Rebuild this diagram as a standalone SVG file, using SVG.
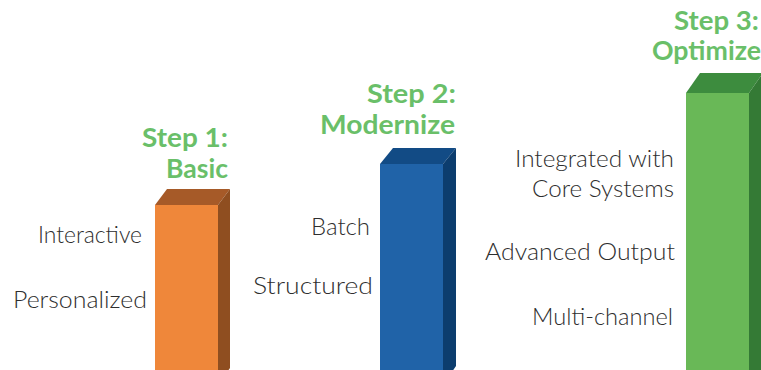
<svg xmlns="http://www.w3.org/2000/svg" width="761" height="370" viewBox="0 0 761 370">
<style>
.lbl{font-family:Lato,"Open Sans","Liberation Sans",sans-serif;font-weight:300;font-size:24px;fill:#2e2e2e;text-anchor:end}
.ttl{font-family:Lato,"Open Sans","Liberation Sans",sans-serif;font-weight:700;font-size:27px;fill:#6abf69;text-anchor:end}
</style>
<rect width="761" height="370" fill="#ffffff"/>
<g id="bar1">
<rect x="155" y="205" width="63" height="180" fill="#ef873a"/>
<polygon points="155,205 218,205 230,189 167,189" fill="#a65a28"/>
<polygon points="218,205 230,189 230,368 218,385" fill="#8f4e20"/>
</g>
<g id="bar2">
<rect x="380" y="164" width="63" height="221" fill="#2063a8"/>
<polygon points="380,164 443,164 456,148 393,148" fill="#124b85"/>
<polygon points="443,164 456,148 456,366 443,385" fill="#0c3d6e"/>
</g>
<g id="bar3">
<rect x="686" y="93" width="63" height="292" fill="#69b857"/>
<polygon points="686,93 749,93 763,73 700,73" fill="#3d8c3e"/>
<polygon points="749,93 763,73 763,370 749,385" fill="#347a35"/>
</g>
<g id="step1">
<text class="ttl" x="228" y="147" textLength="86" lengthAdjust="spacingAndGlyphs">Step 1:</text>
<text class="ttl" x="228" y="178" textLength="62" lengthAdjust="spacingAndGlyphs">Basic</text>
<text class="lbl" x="142" y="243" textLength="104" lengthAdjust="spacingAndGlyphs">Interactive</text>
<text class="lbl" x="147" y="308" textLength="134" lengthAdjust="spacingAndGlyphs">Personalized</text>
</g>
<g id="step2">
<text class="ttl" x="456" y="103" textLength="89" lengthAdjust="spacingAndGlyphs">Step 2:</text>
<text class="ttl" x="455" y="134" textLength="135" lengthAdjust="spacingAndGlyphs">Modernize</text>
<text class="lbl" x="370" y="235" textLength="59" lengthAdjust="spacingAndGlyphs">Batch</text>
<text class="lbl" x="373" y="294" textLength="120" lengthAdjust="spacingAndGlyphs">Structured</text>
</g>
<g id="step3">
<text class="ttl" x="759" y="30" textLength="85" lengthAdjust="spacingAndGlyphs">Step 3:</text>
<text class="ttl" x="761" y="60" textLength="109" lengthAdjust="spacingAndGlyphs">Optimize</text>
<text class="lbl" x="674" y="167" textLength="159" lengthAdjust="spacingAndGlyphs">Integrated with</text>
<text class="lbl" x="674" y="197" textLength="142" lengthAdjust="spacingAndGlyphs">Core Systems</text>
<text class="lbl" x="675" y="260" textLength="190" lengthAdjust="spacingAndGlyphs">Advanced Output</text>
<text class="lbl" x="673" y="325" textLength="141" lengthAdjust="spacingAndGlyphs">Multi-channel</text>
</g>
</svg>
